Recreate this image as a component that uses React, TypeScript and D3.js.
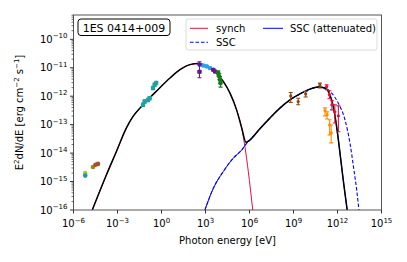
import React from 'react';
import * as d3 from 'd3';

// curves, as [log10 E/eV, log10 E2dN/dE]
const totalModel = [
  [-4.72, -16], [-3.76, -14.77], [-3.08, -13.95], [-2.4, -13.12], [-1.94, -12.71],
  [-1.26, -12.3], [-0.36, -11.83], [0.58, -11.36], [1.26, -11.07], [1.94, -10.89],
  [2.51, -10.85], [3.08, -10.95], [3.76, -11.19], [4.21, -11.48], [4.67, -11.89],
  [5.12, -12.48], [5.47, -13.12], [5.76, -13.62], [6.03, -13.54], [6.71, -13.14],
  [7.39, -12.77], [8.07, -12.42], [8.76, -12.13], [9.44, -11.92], [10.12, -11.75],
  [10.69, -11.68], [11.14, -11.71], [11.48, -11.95], [11.71, -12.36], [11.94, -13.07],
  [12.17, -14.0], [12.39, -14.94], [12.66, -16],
];
const synchModel = [
  [-4.72, -16], [-3.76, -14.77], [-3.08, -13.95], [-2.4, -13.12], [-1.94, -12.71],
  [-1.26, -12.3], [-0.36, -11.83], [0.58, -11.36], [1.26, -11.07], [1.94, -10.89],
  [2.51, -10.85], [3.08, -10.95], [3.76, -11.19], [4.21, -11.48], [4.67, -11.89],
  [5.12, -12.48], [5.47, -13.12], [5.92, -14.65], [6.22, -16],
];
const sscAttModel = [
  [2.96, -16], [3.53, -15.24], [4.21, -14.65], [4.89, -14.18], [5.47, -13.89],
  [5.81, -13.65], [6.03, -13.54], [6.71, -13.14], [7.39, -12.77], [8.07, -12.42],
  [8.76, -12.13], [9.44, -11.92], [10.12, -11.75], [10.69, -11.68], [11.14, -11.71],
  [11.48, -11.95], [11.71, -12.36], [11.94, -13.07], [12.17, -14.0], [12.39, -14.94],
  [12.66, -16],
];
const sscModel = [
  [2.96, -16], [3.53, -15.24], [4.21, -14.65], [4.89, -14.18], [5.47, -13.89],
  [5.81, -13.65], [6.03, -13.54], [6.71, -13.14], [7.39, -12.77], [8.07, -12.42],
  [8.76, -12.13], [9.44, -11.92], [10.12, -11.75], [10.69, -11.68], [11.14, -11.71],
  [11.6, -11.89], [12.05, -12.24], [12.51, -12.83], [12.85, -13.65], [13.12, -14.59],
  [13.31, -15.3], [13.46, -16],
];

// observations: [log E, log F, log F low, log F high]
const radioPts = [[-5.2, -14.7, -14.7, -14.7]];
const radioPts2 = [[-5.2, -14.79, -14.79, -14.79]];
const mmPts = [[-4.67, -14.49, -14.49, -14.49]];
const mmPts2 = [[-4.5, -14.41, -14.41, -14.41], [-4.33, -14.38, -14.38, -14.38]];
const opticalPts = [
  [-1.26, -12.3, -12.36, -12.24], [-1.15, -12.19, -12.25, -12.13], [-0.92, -12.13, -12.19, -12.07],
  [-0.81, -12.07, -12.13, -12.01], [-0.58, -11.71, -11.77, -11.65], [-0.47, -11.6, -11.66, -11.54],
  [-0.36, -11.54, -11.6, -11.48],
];
const xrayPurple = [
  [2.59, -10.89, -11.35, -10.79], [2.59, -11.14, -11.18, -11.1],
  [3.53, -11.07, -11.11, -11.03], [3.65, -11.13, -11.17, -11.09],
];
const xrayBlue = [[2.85, -10.92, -10.95, -10.89], [3.08, -10.95, -10.98, -10.92], [3.3, -11.01, -11.04, -10.98]];
const xrayGreen = [
  [3.87, -11.19, -11.29, -11.11], [3.94, -11.31, -11.42, -11.21],
  [3.99, -11.42, -11.55, -11.31], [4.03, -11.54, -11.68, -11.42],
];
const fermiPts = [
  [8.81, -11.99, -12.22, -11.87], [9.32, -12.19, -12.3, -12.07],
  [9.83, -11.92, -12.03, -11.83], [10.8, -11.61, -11.71, -11.54],
];
const hessPts = [
  [11.26, -11.66, -11.77, -11.6], [11.45, -11.95, -12.09, -11.81], [11.62, -12.3, -12.48, -12.16],
  [11.82, -12.55, -12.94, -12.3], [12.06, -12.69, -13.25, -12.34],
];
const veritasPts = [
  [11.15, -12.51, -12.69, -12.41], [11.29, -12.65, -12.8, -12.55],
  [11.46, -13.01, -13.36, -12.83], [11.57, -13.29, -13.64, -13.01],
];

const xTickExp = [-6, -3, 0, 3, 6, 9, 12, 15];
const yTickExp = [-16, -15, -14, -13, -12, -11, -10];

const font = 'DejaVu Sans, sans-serif';
const L = 73.5, R = 381.5, T = 15, B = 210;

const App = () => {
  const x = d3.scaleLog().domain([1e-6, 1e15]).range([L, R]);
  const y = d3.scaleLog().domain([1e-16, 7.15e-10]).range([B, T]);
  const px = (le: number) => x(Math.pow(10, le));
  const py = (lf: number) => y(Math.pow(10, lf));
  const line = d3.line<number[]>().x(d => px(d[0])).y(d => py(d[1])).curve(d3.curveMonotoneX);

  const minor: number[] = [];
  for (let e = -16; e <= -10; e++) for (let m = 2; m <= 9; m++) {
    const v = m * Math.pow(10, e);
    if (v < 7.15e-10) minor.push(v);
  }

  const points = (pts: number[][], color: string, key: string, r = 2.3) => pts.map((p, i) => (
    <g key={key + i}>
      {p[2] !== p[3] && (
        <g stroke={color} strokeWidth={1.1}>
          <line x1={px(p[0])} x2={px(p[0])} y1={py(p[2])} y2={py(p[3])} />
          <line x1={px(p[0]) - 2} x2={px(p[0]) + 2} y1={py(p[2])} y2={py(p[2])} />
          <line x1={px(p[0]) - 2} x2={px(p[0]) + 2} y1={py(p[3])} y2={py(p[3])} />
        </g>
      )}
      <circle cx={px(p[0])} cy={py(p[1])} r={r} fill={color} />
    </g>
  ));

  return (
    <svg width={407} height={262} style={{ position: 'absolute', left: 0, top: 0 }} fontFamily={font}>
      <rect width={407} height={262} fill="white" />
      <defs>
        <clipPath id="plot"><rect x={L} y={T} width={R - L} height={B - T} /></clipPath>
      </defs>
      <g clipPath="url(#plot)" fill="none">
        <path d={line(synchModel) || ''} stroke="#dc143c" strokeWidth={1} />
        <path d={line(sscModel) || ''} stroke="blue" strokeWidth={1.1} strokeDasharray="3.5,2" />
        <path d={line(sscAttModel) || ''} stroke="blue" strokeWidth={1} />
        <path d={line(totalModel) || ''} stroke="black" strokeWidth={1.5} />
      </g>
      <g clipPath="url(#plot)">
        {points(radioPts, '#9acd32', 'r1')}
        {points(radioPts2, '#1a9a9a', 'r2')}
        {points(mmPts, '#9a8a10', 'm1')}
        {points(mmPts2, '#a0522d', 'm2')}
        {points(opticalPts, '#20a0a0', 'o')}
        {points(xrayBlue, '#2aa0e8', 'xb')}
        {points(xrayPurple, '#5b1a9a', 'xp')}
        {points(xrayGreen, '#1a7a1a', 'xg')}
        {points(fermiPts, '#8b4513', 'f', 1.6)}
        {points(veritasPts, '#ff8c00', 'v', 1.6)}
        {points(hessPts, '#dc143c', 'h', 1.6)}
      </g>
      {/* frame */}
      <rect x={L} y={T} width={R - L} height={B - T} fill="none" stroke="#555" strokeWidth={1} />
      {yTickExp.map(e => (
        <g key={'y' + e}>
          <line x1={L - 3.5} x2={L} y1={y(Math.pow(10, e))} y2={y(Math.pow(10, e))} stroke="#333" />
          <text x={L - 6} y={y(Math.pow(10, e)) + 3.5} fontSize={10} textAnchor="end">
            10<tspan fontSize={7} dy={-4.5}>{'\u2212' + Math.abs(e)}</tspan>
          </text>
        </g>
      ))}
      {minor.map((v, i) => (
        <line key={'m' + i} x1={L - 2} x2={L} y1={y(v)} y2={y(v)} stroke="#333" strokeWidth={0.7} />
      ))}
      {xTickExp.map(e => (
        <g key={'x' + e}>
          <line x1={x(Math.pow(10, e))} x2={x(Math.pow(10, e))} y1={B} y2={B + 3.5} stroke="#333" />
          <text x={x(Math.pow(10, e))} y={B + 17} fontSize={10} textAnchor="middle">
            10<tspan fontSize={7} dy={-4.5}>{e < 0 ? '\u2212' + Math.abs(e) : String(e)}</tspan>
          </text>
        </g>
      ))}
      <text x={(L + R) / 2} y={244} fontSize={10} textAnchor="middle">Photon energy [eV]</text>
      <text transform={`translate(23,${(T + B) / 2}) rotate(-90)`} fontSize={10} textAnchor="middle">
        E<tspan fontSize={7} dy={-4.5}>2</tspan><tspan dy={4.5}>dN/dE [erg cm</tspan>
        <tspan fontSize={7} dy={-4.5}>{'\u22122'}</tspan><tspan dy={4.5}> s</tspan>
        <tspan fontSize={7} dy={-4.5}>{'\u22121'}</tspan><tspan dy={4.5}>]</tspan>
      </text>
      {/* source label */}
      <rect x={78} y={19} width={92} height={16.5} rx={3} fill="white" stroke="black" strokeWidth={1} />
      <text x={124} y={31.5} fontSize={11} textAnchor="middle">1ES 0414+009</text>
      {/* legend */}
      <rect x={186} y={19} width={191} height={31} rx={2} fill="white" fillOpacity={0.8} stroke="#d0d0d0" strokeWidth={0.8} />
      <line x1={190} x2={208} y1={28.3} y2={28.3} stroke="#dc143c" strokeWidth={1} />
      <text x={216} y={31.8} fontSize={10}>synch</text>
      <line x1={190} x2={208} y1={42.3} y2={42.3} stroke="blue" strokeWidth={1.1} strokeDasharray="3.5,2" />
      <text x={216} y={45.8} fontSize={10}>SSC</text>
      <line x1={263} x2={283} y1={28.3} y2={28.3} stroke="blue" strokeWidth={1} />
      <text x={290} y={31.8} fontSize={10}>SSC (attenuated)</text>
    </svg>
  );
};

export default App;
